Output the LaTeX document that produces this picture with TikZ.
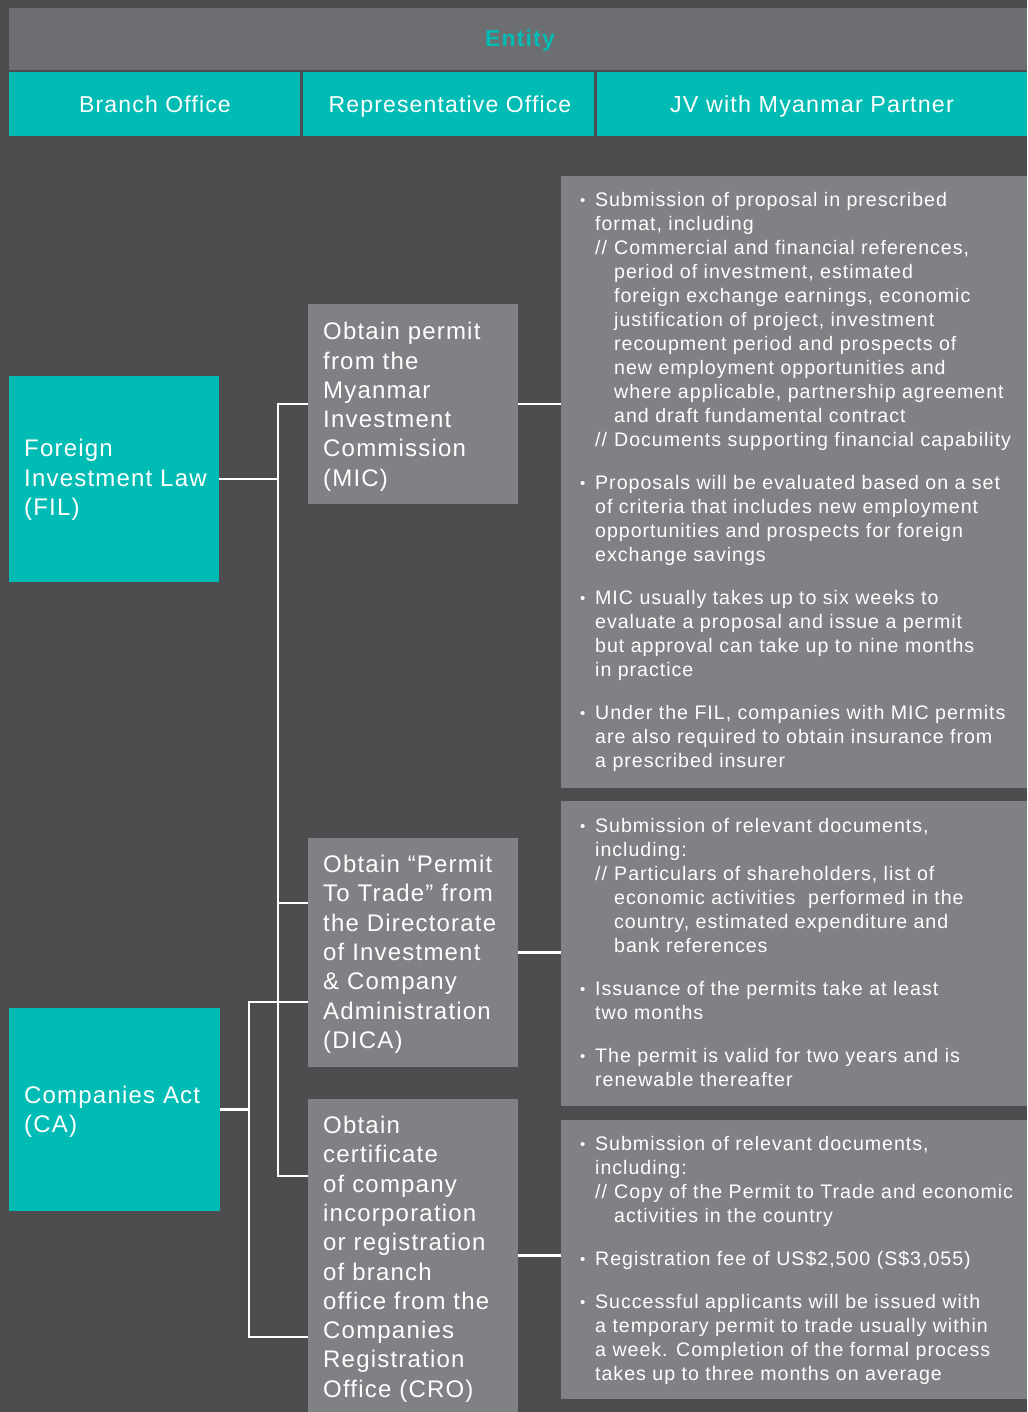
\documentclass[tikz,border=0pt]{standalone}
\usepackage{fontspec}
\setmainfont{Liberation Sans}[LetterSpace=5]
\definecolor{bgc}{HTML}{4D4D4F}
\definecolor{hdrc}{HTML}{6D6E71}
\definecolor{tealc}{HTML}{00BCB4}
\definecolor{greyc}{HTML}{808185}
\newcommand\bul{\makebox[15pt][l]{\raisebox{1.2pt}{\fontsize{15}{15}\selectfont •}}}
\newcommand\myind{\hspace*{15pt}}
\newcommand\dsl{\hspace*{15pt}\makebox[19pt][l]{//}}
\newcommand\indd{\hspace*{34pt}}
\begin{document}
\begin{tikzpicture}[x=1pt,y=-1pt,
  boxbase/.style={anchor=north west, inner sep=0pt, outer sep=0pt},
  tealbox/.style={boxbase, fill=tealc},
  greybox/.style={boxbase, fill=greyc},
  hdrbox/.style={boxbase, fill=hdrc},
  conn/.style={draw=white, line width=2.5pt},
  hdrtext/.style={anchor=base, inner sep=0pt, text=white, font=\fontsize{23}{28}\selectfont},
  bigtext/.style={anchor=north west, inner sep=0pt, align=left, text=white, font=\fontsize{24}{29.3}\selectfont},
  smalltext/.style={anchor=north west, inner sep=0pt, align=left, text=white, font=\fontsize{19.6}{24}\selectfont}
]
\useasboundingbox (0,0) rectangle (1027,1412);
\fill[bgc] (0,0) rectangle (1027,1412);

% header
\node[hdrbox, minimum width=1018pt, minimum height=62pt] (hdr) at (9,8) {};
\node[anchor=base, inner sep=0pt, text=tealc, font=\fontsize{23}{28}\selectfont\bfseries] (entity) at (520,46.7) {Entity};
\node[tealbox, minimum width=291pt, minimum height=64pt] (branch) at (9,72) {};
\node[tealbox, minimum width=291pt, minimum height=64pt] (rep) at (303,72) {};
\node[tealbox, minimum width=430pt, minimum height=64pt] (jv) at (597,72) {};
\node[hdrtext] (branchtxt) at (155,112.7) {Branch Office};
\node[hdrtext] (reptxt) at (450,112.7) {Representative Office};
\node[hdrtext, font=\fontsize{23.3}{28}\selectfont] (jvtxt) at (812,112.7) {JV with Myanmar Partner};

% left boxes
\node[tealbox, minimum width=210pt, minimum height=206pt] (fil) at (9,376) {};
\node[tealbox, minimum width=211pt, minimum height=203pt] (ca) at (9,1008) {};
\node[bigtext] (filtxt) at (24,436.7) {\rule{0pt}{20pt}Foreign\\Investment Law\\(FIL)};
\node[bigtext] (catxt) at (24,1083) {\rule{0pt}{20pt}Companies Act\\(CA)};

% middle boxes
\node[greybox, minimum width=210pt, minimum height=200pt] (mic) at (308,304) {};
\node[greybox, minimum width=210pt, minimum height=229pt] (dica) at (308,838) {};
\node[greybox, minimum width=210pt, minimum height=313pt] (cro) at (308,1099) {};
\node[bigtext] (mictxt) at (323,319.5) {\rule{0pt}{20pt}Obtain permit\\from the\\Myanmar\\Investment\\Commission\\(MIC)};
\node[bigtext] (dicatxt) at (323,852.3) {\rule{0pt}{20pt}Obtain “Permit\\To Trade” from\\the Directorate\\of Investment\\\& Company\\Administration\\(DICA)};
\node[bigtext] (crotxt) at (323,1113.3) {\rule{0pt}{20pt}Obtain\\certificate\\of company\\incorporation\\or registration\\of branch\\office from the\\Companies\\Registration\\Office (CRO)};

% right boxes
\node[greybox, minimum width=466pt, minimum height=612pt] (r1) at (561,176) {};
\node[greybox, minimum width=466pt, minimum height=305pt] (r2) at (561,801) {};
\node[greybox, minimum width=466pt, minimum height=279pt] (r3) at (561,1120) {};

\node[smalltext] (r1txt) at (580,190) {\rule{0pt}{16pt}\bul Submission of proposal in prescribed\\
\myind format, including\\
\dsl Commercial and financial references,\\
\indd period of investment, estimated\\
\indd foreign exchange earnings, economic\\
\indd justification of project, investment\\
\indd recoupment period and prospects of\\
\indd new employment opportunities and\\
\indd where applicable, partnership agreement\\
\indd and draft fundamental contract\\
\dsl Documents supporting financial capability\\[19pt]
\bul Proposals will be evaluated based on a set\\
\myind of criteria that includes new employment\\
\myind opportunities and prospects for foreign\\
\myind exchange savings\\[19pt]
\bul MIC usually takes up to six weeks to\\
\myind evaluate a proposal and issue a permit\\
\myind but approval can take up to nine months\\
\myind in practice\\[19pt]
\bul Under the FIL, companies with MIC permits\\
\myind are also required to obtain insurance from\\
\myind a prescribed insurer};

\node[smalltext] (r2txt) at (580,816) {\rule{0pt}{16pt}\bul Submission of relevant documents,\\
\myind including:\\
\dsl Particulars of shareholders, list of\\
\indd economic activities\ \ performed in the\\
\indd country, estimated expenditure and\\
\indd bank references\\[19pt]
\bul Issuance of the permits take at least\\
\myind two months\\[19pt]
\bul The permit is valid for two years and is\\
\myind renewable thereafter};

\node[smalltext] (r3txt) at (580,1134) {\rule{0pt}{16pt}\bul Submission of relevant documents,\\
\myind including:\\
\dsl Copy of the Permit to Trade and economic\\
\indd activities in the country\\[19pt]
\bul Registration fee of US\$2,500 (S\$3,055)\\[19pt]
\bul Successful applicants will be issued with\\
\myind a temporary permit to trade usually within\\
\myind a week. Completion of the formal process\\
\myind takes up to three months on average};

% connectors
\coordinate (sA) at (278,0);
\coordinate (sB) at (249,0);
\coordinate (dicaA) at (308,903);
\coordinate (dicaB) at (308,1002);
\coordinate (croA) at (308,1176);
\coordinate (croB) at (308,1337);
\draw[conn] (fil.east) -- (fil.east -| sA);
\draw[conn] (mic.west) -- (mic.west -| sA) -- (croA -| sA) -- (croA);
\draw[conn] (dicaA -| sA) -- (dicaA);
\draw[conn] (dicaB) -- (dicaB -| sB) -- (croB -| sB) -- (croB);
\draw[conn] (ca.east) -- (ca.east -| sB);
\draw[conn] (mic.east) -- (mic.east -| r1.west);
\draw[conn] (dica.east) -- (dica.east -| r2.west);
\draw[conn] (cro.east) -- (cro.east -| r3.west);
\end{tikzpicture}
\end{document}
